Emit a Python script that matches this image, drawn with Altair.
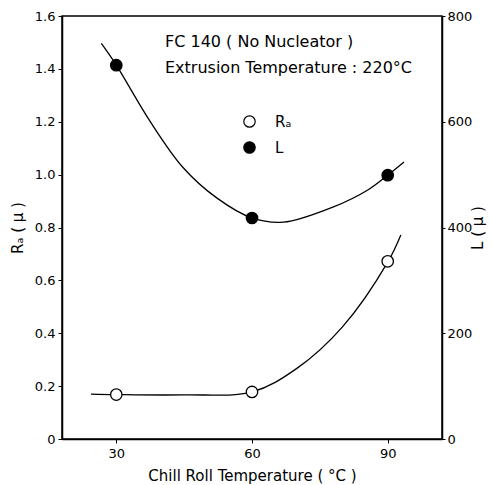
import altair as alt
import pandas as pd

FONT = "DejaVu Sans"

# measured points
temps = [30, 60, 90]
ra_vals = [0.168, 0.178, 0.672]
l_vals = [707, 418, 499]

# fitted curves
ra_curve_x = [24.4, 30, 45, 60, 70, 80, 90, 92.9]
ra_curve_y = [0.170, 0.168, 0.167, 0.178, 0.268, 0.424, 0.669, 0.772]
l_curve_x = [26.7, 30, 37.3, 44.7, 52.2, 60, 66.9, 78, 85.6, 90, 93.6]
l_curve_y = [748, 707, 603, 514, 456, 418, 410, 439, 471, 499, 524]

series_names = ["Rₐ", "L"]
x_ticks = [30, 60, 90]
ra_ticks = [0, 0.2, 0.4, 0.6, 0.8, 1.0, 1.2, 1.4, 1.6]
l_ticks = [0, 200, 400, 600, 800]

ra_pts = pd.DataFrame({"T": temps, "v": ra_vals, "s": [series_names[0]] * 3})
l_pts = pd.DataFrame({"T": temps, "v": l_vals, "s": [series_names[1]] * 3})
ra_cur = pd.DataFrame({"T": ra_curve_x, "v": ra_curve_y})
l_cur = pd.DataFrame({"T": l_curve_x, "v": l_curve_y})

xscale = alt.Scale(domain=[18, 102], nice=False, zero=False)
xaxis = alt.Axis(values=x_ticks, title="Chill Roll Temperature ( °C )", grid=False,
                 tickSize=4, labelPadding=4, titlePadding=8)
fill_scale = alt.Scale(domain=series_names, range=["white", "black"])

ra_y = alt.Y("v:Q", scale=alt.Scale(domain=[0, 1.6], nice=False),
             axis=alt.Axis(values=ra_ticks, title="Rₐ ( μ )", grid=False, orient="left",
                           labelExpr="datum.value == 0 ? '0' : format(datum.value, '.1f')",
                           tickSize=4, labelPadding=3, titlePadding=9))
l_y = alt.Y("v:Q", scale=alt.Scale(domain=[0, 800], nice=False),
            axis=alt.Axis(values=l_ticks, title="L ( μ )", grid=False, orient="right",
                          tickSize=3, labelPadding=2, titlePadding=14, titleAngle=-90))

legend = alt.Legend(title=None, orient="none", legendX=180, legendY=98,
                    symbolType="circle", symbolSize=130, symbolStrokeColor="black",
                    symbolStrokeWidth=1.2, labelFontSize=15, labelFont=FONT,
                    labelOffset=18, rowPadding=9)

ra_line = alt.Chart(ra_cur).mark_line(color="black", strokeWidth=1.3, interpolate="catmull-rom").encode(
    x=alt.X("T:Q", scale=xscale, axis=xaxis), y=ra_y)
ra_point = alt.Chart(ra_pts).mark_point(shape="circle", size=130, stroke="black",
                                        strokeWidth=1.3, opacity=1, filled=False).encode(
    x=alt.X("T:Q", scale=xscale, axis=xaxis), y=ra_y,
    fill=alt.Fill("s:N", scale=fill_scale, legend=legend))
l_line = alt.Chart(l_cur).mark_line(color="black", strokeWidth=1.3, interpolate="catmull-rom").encode(
    x=alt.X("T:Q", scale=xscale, axis=xaxis), y=l_y)
l_point = alt.Chart(l_pts).mark_point(shape="circle", size=130, stroke="black",
                                      strokeWidth=1.3, opacity=1, filled=False).encode(
    x=alt.X("T:Q", scale=xscale, axis=xaxis), y=l_y,
    fill=alt.Fill("s:N", scale=fill_scale, legend=legend))

ra_layer = alt.layer(ra_line, ra_point)
l_layer = alt.layer(l_line, l_point)

t1 = alt.Chart(pd.DataFrame({"t": ["FC 140 ( No Nucleator )"]})).mark_text(
    align="left", baseline="middle", font=FONT, fontSize=16, color="black").encode(
    text="t:N", x=alt.value(103), y=alt.value(26))
t2 = alt.Chart(pd.DataFrame({"t": ["Extrusion Temperature : 220°C"]})).mark_text(
    align="left", baseline="middle", font=FONT, fontSize=16, color="black").encode(
    text="t:N", x=alt.value(103), y=alt.value(52))

chart = alt.layer(ra_layer, l_layer, t1, t2).resolve_scale(y="independent").properties(
    width=380, height=423, autosize="none",
    padding={"left": 62, "top": 16, "right": 50, "bottom": 46},
).configure(background="white").configure_view(stroke="black", strokeWidth=1.5).configure_axis(
    domainColor="black", domainWidth=1.5, tickColor="black", labelColor="black",
    titleColor="black", labelFont=FONT, titleFont=FONT, labelFontSize=13,
    titleFontSize=15, titleFontWeight="normal"
)

chart.save("out.html", embed_options={"renderer": "svg", "actions": False})
